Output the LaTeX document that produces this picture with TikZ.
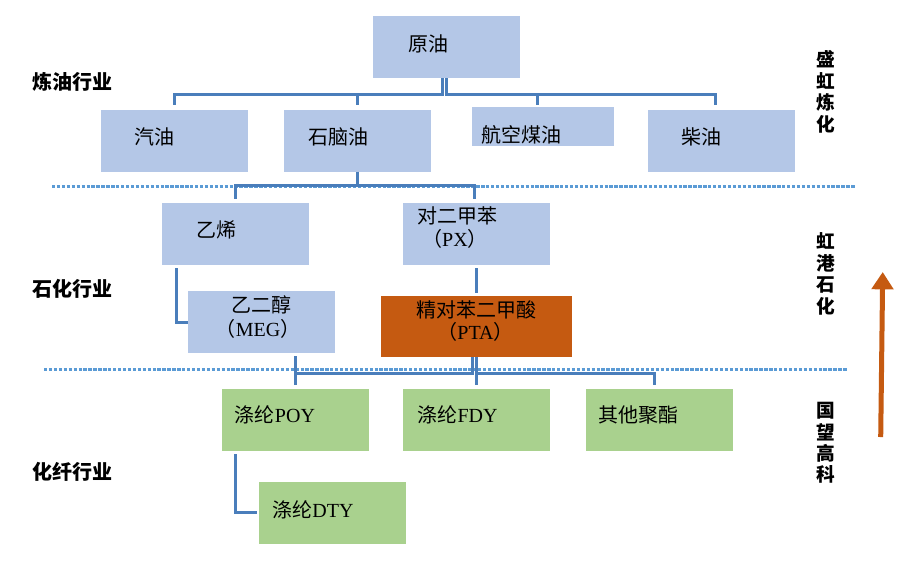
\documentclass[tikz,border=0pt]{standalone}
\usepackage{fontspec}
\setmainfont{Noto Sans CJK SC}
\newfontfamily\latin{Liberation Serif}
\usepackage{tikz}
\usetikzlibrary{arrows.meta}
\definecolor{boxblue}{HTML}{B4C7E7}
\definecolor{boxgreen}{HTML}{A9D18E}
\definecolor{ptaorange}{HTML}{C55A11}
\definecolor{linkblue}{HTML}{4A7EBB}
\definecolor{dotblue}{HTML}{5B9BD5}

\begin{document}
\begin{tikzpicture}[x=0.75pt,y=-0.75pt,
    bluebox/.style={fill=boxblue, minimum width=110.25pt, minimum height=46.5pt, inner sep=0pt},
    greenbox/.style={fill=boxgreen, minimum width=110.25pt, minimum height=46.5pt, inner sep=0pt},
    txt/.style={inner sep=0pt, font=\fontsize{15}{17}\selectfont},
    sidetxt/.style={inner sep=0pt, align=center, font=\fontsize{14}{16.1}\selectfont\bfseries},
    link/.style={linkblue, line width=2.25pt},
    sep/.style={dotblue, line width=2.25pt, dash pattern=on 2.5pt off 1.2pt}]
    \useasboundingbox (0,0) rectangle (909,569);
    % separators
    \coordinate (sep1-w) at (52,186);
    \coordinate (sep1-e) at (856,186);
    \coordinate (sep2-w) at (44,369);
    \coordinate (sep2-e) at (848,369);
    \draw[sep] (sep1-w) -- (sep1-e);
    \draw[sep] (sep2-w) -- (sep2-e);
    % boxes
    \node[bluebox] (yuanyou) at (446.5,47) {};
    \node[bluebox] (qiyou) at (174.5,140.5) {};
    \node[bluebox] (naphtha) at (357,140.5) {};
    \node[bluebox, minimum width=106.1pt, minimum height=29.25pt] (jet) at (543,126.5) {};
    \node[bluebox] (chaiyou) at (721.5,140.5) {};
    \node[bluebox] (yixi) at (235.5,234) {};
    \node[bluebox] (px) at (476.75,234) {};
    \node[bluebox] (meg) at (261.5,322) {};
    \node[fill=ptaorange, minimum width=142.9pt, minimum height=45.75pt, inner sep=0pt] (pta) at (476.75,326.5) {};
    \node[greenbox] (poy) at (295,420) {};
    \node[greenbox] (fdy) at (476.5,420) {};
    \node[greenbox] (other) at (659.5,420) {};
    \node[greenbox] (dty) at (332.75,512.5) {};
    % texts
    \node[txt] (yuanyou-t) at (428,44) {原油};
    \node[txt] (qiyou-t) at (154.5,136.5) {汽油};
    \node[txt] (naphtha-t) at (338.5,136.5) {石脑油};
    \node[txt] (jet-t) at (521,135) {航空煤油};
    \node[txt] (chaiyou-t) at (701.5,136.5) {柴油};
    \node[txt] (yixi-t) at (216,230) {乙烯};
    \node[txt] (px-t1) at (457.5,215.5) {对二甲苯};
    \node[txt] (px-t2) at (455,238.5) {（{\latin PX}）};
    \node[txt] (meg-t1) at (261,305) {乙二醇};
    \node[txt] (meg-t2) at (258,328.5) {（{\latin MEG}）};
    \node[txt] (pta-t1) at (476.5,310) {精对苯二甲酸};
    \node[txt] (pta-t2) at (475.5,332) {（{\latin PTA}）};
    \node[txt] (poy-t) at (275,415) {涤纶{\latin POY}};
    \node[txt] (fdy-t) at (457.5,415) {涤纶{\latin FDY}};
    \node[txt] (other-t) at (638,415) {其他聚酯};
    \node[txt] (dty-t) at (313,509.5) {涤纶{\latin DTY}};
    % connectors
    \draw[link, shorten >=3pt] ([xshift=-3pt]yuanyou.south) -- ++(0,16) -| (qiyou.north);
    \draw[link, shorten >=3pt] ([xshift=-3pt]yuanyou.south) -- ++(0,16) -| (naphtha.north);
    \draw[link, shorten >=1.5pt] (yuanyou.south) -- ++(0,16) -| ([xshift=-4.5pt]jet.north);
    \draw[link, shorten >=3pt] (yuanyou.south) -- ++(0,16) -| ([xshift=-4.5pt]chaiyou.north);
    \draw[link, shorten >=3pt] (naphtha.south) -- ++(0,13.5) -| (yixi.north);
    \draw[link, shorten >=3pt] (naphtha.south) -- ++(0,13.5) -| ([xshift=-2pt]px.north);
    \draw[link, shorten <=2.25pt] ([xshift=-44.6pt]yixi.south) |- (meg.west);
    \draw[link, shorten <=2.25pt, shorten >=2.25pt] (px.south) -- (pta.north);
    \draw[link, shorten <=2.25pt, shorten >=3pt] (meg.south -| poy.north) -- (poy.north);
    \draw[link, shorten >=3pt] ([xshift=-3pt]pta.south) -- ++(0,16) -| (poy.north);
    \draw[link, shorten >=3pt] (pta.south) -- ++(0,16) -| (fdy.north);
    \draw[link, shorten >=3pt] (pta.south) -- ++(0,16) -| ([xshift=-3.4pt]other.north);
    \draw[link, shorten <=2.25pt, shorten >=1.5pt] ([xshift=-45pt]poy.south) |- (dty.west);
    % industry labels
    \node[sidetxt, font=\fontsize{15}{17}\selectfont\bfseries] (lianyou) at (72.5,82) {炼油行业};
    \node[sidetxt, font=\fontsize{15}{17}\selectfont\bfseries] (shihua) at (72.5,289) {石化行业};
    \node[sidetxt, font=\fontsize{15}{17}\selectfont\bfseries] (huaxian) at (72.5,471.5) {化纤行业};
    \node[sidetxt] (shenghong) at (826,92) {盛\\虹\\炼\\化};
    \node[sidetxt] (honggang) at (826,274) {虹\\港\\石\\化};
    \node[sidetxt] (guowang) at (826,443) {国\\望\\高\\科};
    % arrow
    \coordinate (arrow-s) at (880.7,437);
    \coordinate (arrow-e) at (882.7,272);
    \draw[ptaorange, line width=3.75pt, -{Triangle[width=16pt,length=13pt]}] (arrow-s) -- (arrow-e);
\end{tikzpicture}
\end{document}
